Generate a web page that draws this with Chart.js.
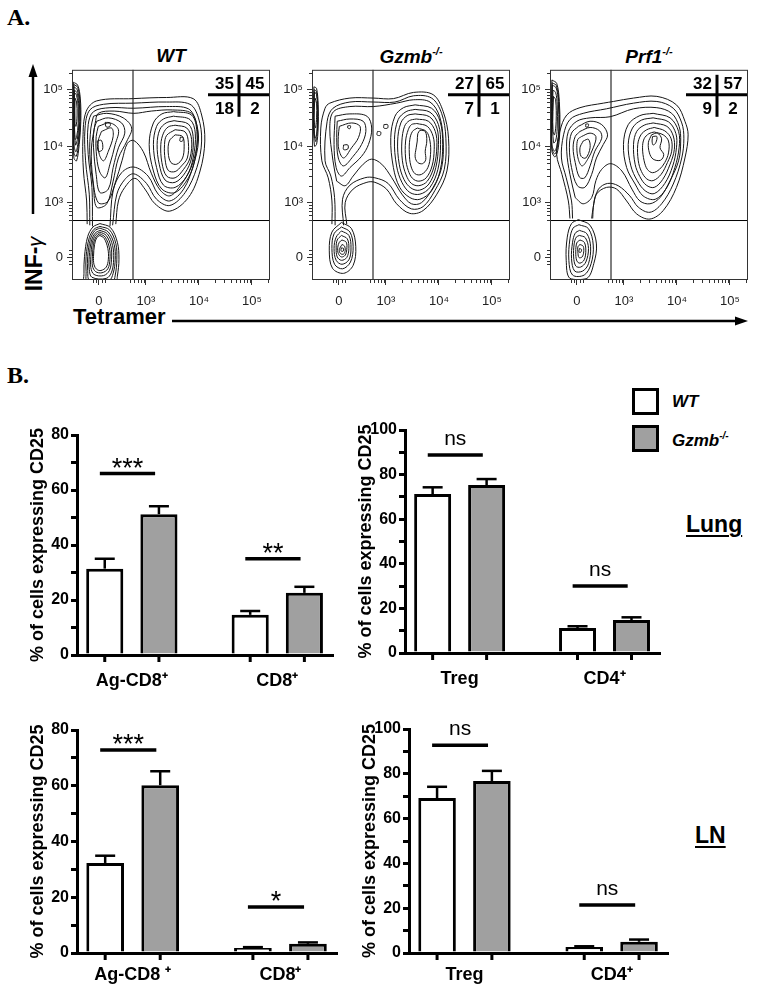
<!DOCTYPE html>
<html>
<head>
<meta charset="utf-8">
<title>CD25 expression in WT and Gzmb-/- mice</title>
<script src="https://cdn.jsdelivr.net/npm/chart.js@4.4.1/dist/chart.umd.min.js"></script>
<style>
  html, body { margin: 0; padding: 0; background: #fff; }
  #page { position: relative; width: 757px; height: 994px; overflow: hidden;
          font-family: "Liberation Sans", Arial, Helvetica, sans-serif; color: #000; }
  #page canvas, .t, .box, svg { position: absolute; }
  .t { line-height: 1; white-space: nowrap; }
  .panel { font: bold 24px "Liberation Serif", "Times New Roman", serif; }
  .ftitle { width: 198px; text-align: center; font-size: 19px; font-weight: bold; font-style: italic; }
  .ftitle sup { font-size: 11px; vertical-align: 8px; }
  .leg { font-size: 17px; font-weight: bold; font-style: italic; }
  .leg sup { font-size: 10px; vertical-align: 7px; }
  .box { width: 27px; height: 27px; box-sizing: border-box; border: 3px solid #000; }
  .tissue { font-size: 23px; font-weight: bold; text-decoration: underline;
            text-decoration-thickness: 2px; text-underline-offset: 3px; }
  .axlab { font-weight: bold; }
</style>
</head>
<body>
<div id="page">
  <div class="t panel" style="left:7px;top:4px">A.</div>
  <div class="t panel" style="left:7px;top:362px">B.</div>

  <div class="t ftitle" style="left:72px;top:46px">WT</div>
  <div class="t ftitle" style="left:312px;top:46px">Gzmb<sup>-/-</sup></div>
  <div class="t ftitle" style="left:550px;top:46px">Prf1<sup>-/-</sup></div>

  <svg width="757" height="340" style="left:0;top:0">
    <line x1="33" y1="214" x2="33" y2="74" stroke="#000" stroke-width="2.5"/>
    <polygon points="33,64 28.5,77 37.5,77" fill="#000"/>
    <line x1="172" y1="321" x2="737" y2="321" stroke="#000" stroke-width="2.5"/>
    <polygon points="748,321 735,316.5 735,325.5" fill="#000"/>
  </svg>
  <div class="t axlab" style="left:34px;top:264px;font-size:23px;transform:translate(-50%,-50%) rotate(-90deg)">INF-<span style="font-weight:normal;font-style:italic;font-size:20px">γ</span></div>
  <div class="t axlab" style="left:73px;top:306px;font-size:22px">Tetramer</div>

  <canvas id="flowWT" width="246" height="262" style="left:30px;top:58px"></canvas>
  <canvas id="flowGzmb" width="246" height="262" style="left:270px;top:58px"></canvas>
  <canvas id="flowPrf1" width="246" height="262" style="left:508px;top:58px"></canvas>

  <div class="box" style="left:632px;top:388px;background:#fff"></div>
  <div class="box" style="left:632px;top:425px;background:#a0a0a0"></div>
  <div class="t leg" style="left:672px;top:393px">WT</div>
  <div class="t leg" style="left:672px;top:431px">Gzmb<sup>-/-</sup></div>
  <div class="t tissue" style="left:686px;top:513px">Lung</div>
  <div class="t tissue" style="left:695px;top:824px">LN</div>

  <canvas id="lungCd8" width="350" height="305" style="left:0;top:405px"></canvas>
  <canvas id="lungCd4" width="345" height="310" style="left:330px;top:400px"></canvas>
  <canvas id="lnCd8" width="355" height="294" style="left:0;top:700px"></canvas>
  <canvas id="lnCd4" width="355" height="295" style="left:330px;top:699px"></canvas>
</div>

<script>
/* ---------- panel B: % of cells expressing CD25 ---------- */
const lungCd8Cats = ['Ag-CD8⁺', 'CD8⁺'];
const lungCd8WT = [31.4, 14.6];
const lungCd8WTErr = [3.6, 1.4];
const lungCd8KO = [51.2, 22.6];
const lungCd8KOErr = [2.9, 2.2];
const lungCd8Sig = ['***', '**'];
const lungCd8SigAt = [66, 35];

const lungCd4Cats = ['Treg', 'CD4⁺'];
const lungCd4WT = [71.3, 11.2];
const lungCd4WTErr = [3.0, 0.8];
const lungCd4KO = [75.3, 14.8];
const lungCd4KOErr = [2.7, 1.2];
const lungCd4Sig = ['ns', 'ns'];
const lungCd4SigAt = [88.8, 30];

const lnCd8Cats = ['Ag-CD8 ⁺', 'CD8⁺'];
const lnCd8WT = [32.3, 1.8];
const lnCd8WTErr = [2.6, 0.3];
const lnCd8KO = [60.2, 3.3];
const lnCd8KOErr = [5.0, 0.5];
const lnCd8Sig = ['***', '*'];
const lnCd8SigAt = [72.8, 16.5];

const lnCd4Cats = ['Treg', 'CD4⁺'];
const lnCd4WT = [69.2, 2.7];
const lnCd4WTErr = [5.0, 0.3];
const lnCd4KO = [76.8, 5.0];
const lnCd4KOErr = [4.5, 1.0];
const lnCd4Sig = ['ns', 'ns'];
const lnCd4SigAt = [92.8, 21.4];

/* ---------- panel A: flow plots (axis units = display decades) ---------- */
const flowXTicks = [2.113, 3, 4, 5];
const flowYTicks = [2.035, 3, 4, 5];
const flowTickLabels = ['0', '10³', '10⁴', '10⁵'];
const gateX = 2.755;   // tetramer gate
const gateY = 2.684;   // IFN-g gate

const quadWT = [35, 45, 18, 2];     // UL, UR, LL, LR
const quadGzmb = [27, 65, 7, 1];
const quadPrf1 = [32, 57, 9, 2];

// WT contours
const wtFarLeft = [
  [[1.63,5.13],[1.71,5.08],[1.76,4.85],[1.77,4.44],[1.74,4.03],[1.69,3.74],[1.64,3.79],[1.63,4.32]],
  [[1.64,5.09],[1.71,5.04],[1.75,4.83],[1.76,4.44],[1.73,4.06],[1.685,3.82],[1.64,3.88],[1.635,4.40]],
  [[1.64,5.05],[1.70,5.00],[1.74,4.80],[1.75,4.44],[1.72,4.08],[1.68,3.90],[1.645,4.00],[1.64,4.50]],
  [[1.65,4.99],[1.695,4.95],[1.73,4.75],[1.735,4.42],[1.705,4.12],[1.67,4.02],[1.65,4.45]],
  [[1.65,4.95],[1.69,4.90],[1.72,4.70],[1.72,4.40],[1.69,4.15],[1.66,4.12],[1.65,4.50]],
  [[1.66,4.85],[1.69,4.78],[1.70,4.55],[1.68,4.35],[1.66,4.40]]
];
const wtLowBlob = [
  [[2.13,2.63],[2.33,2.56],[2.46,2.30],[2.49,2.00],[2.46,1.70],[2.42,1.55],[1.85,1.55],[1.83,1.75],[1.84,2.05],[1.90,2.40],[2.00,2.57]],
  [[2.13,2.58],[2.31,2.52],[2.43,2.28],[2.45,2.00],[2.42,1.72],[2.36,1.58],[1.90,1.58],[1.87,1.78],[1.87,2.05],[1.93,2.38],[2.02,2.53]],
  [[2.13,2.55],[2.29,2.48],[2.40,2.26],[2.42,2.00],[2.38,1.75],[2.30,1.62],[1.94,1.62],[1.90,1.80],[1.90,2.05],[1.95,2.35],[2.03,2.50]],
  [[2.13,2.51],[2.27,2.45],[2.37,2.24],[2.39,2.00],[2.35,1.77],[2.25,1.66],[1.98,1.68],[1.93,1.82],[1.93,2.05],[1.97,2.32],[2.04,2.46]],
  [[2.13,2.48],[2.25,2.42],[2.34,2.22],[2.35,2.00],[2.31,1.80],[2.20,1.71],[2.02,1.73],[1.96,1.85],[1.96,2.05],[1.99,2.30],[2.05,2.43]],
  [[2.13,2.45],[2.23,2.39],[2.31,2.20],[2.32,2.00],[2.28,1.83],[2.17,1.76],[2.05,1.78],[1.99,1.88],[1.99,2.05],[2.01,2.28],[2.06,2.40]],
  [[2.13,2.42],[2.21,2.37],[2.28,2.19],[2.29,2.00],[2.25,1.86],[2.15,1.80],[2.07,1.82],[2.02,1.90],[2.01,2.05],[2.03,2.26],[2.07,2.38]]
];
const wtUpper = [   // open: these run down the neck into the lower blob
  [[1.89,2.62],[1.88,3.03],[1.82,3.56],[1.81,4.14],[1.87,4.61],[2.07,4.80],[2.76,4.84],[3.39,4.86],[3.89,4.84],[4.05,4.55],[4.11,4.09],[4.02,3.56],[3.80,3.09],[3.45,2.85],[3.17,2.98],[2.98,3.24],[2.79,3.43],[2.60,3.27],[2.48,3.03],[2.43,2.62]],
  [[1.94,2.60],[1.93,3.15],[1.86,3.74],[1.85,4.32],[1.94,4.64],[2.20,4.74],[2.76,4.76],[3.39,4.78],[3.83,4.74],[3.99,4.50],[4.05,4.09],[3.96,3.62],[3.74,3.18],[3.45,2.95],[3.20,3.06],[3.01,3.34],[2.77,3.51],[2.60,3.41],[2.45,3.15],[2.37,2.60]],
  [[1.99,2.58],[1.98,3.27],[1.91,3.85],[1.91,4.38],[2.01,4.61],[2.32,4.68],[2.77,4.67],[3.39,4.70],[3.80,4.66],[3.94,4.44],[3.99,4.09],[3.89,3.65],[3.71,3.24],[3.45,3.03],[3.23,3.15],[3.04,3.47],[2.77,3.63],[2.54,3.53],[2.38,3.21],[2.32,2.58]]
];
const wtBridge = [
  [[2.04,4.40],[2.10,4.58],[2.40,4.62],[2.77,4.58],[3.10,4.62],[3.50,4.64],[3.86,4.58],[3.97,4.30],[3.95,3.95],[3.85,3.62],[3.65,3.30],[3.45,3.12],[3.27,3.22],[3.10,3.52],[2.95,3.90],[2.77,4.10],[2.65,4.05],[2.55,3.75],[2.42,3.35],[2.28,3.02],[2.10,3.00],[2.00,3.40],[1.97,3.95]]
];
const wtLeftBlob = [
  [[2.01,4.53],[2.26,4.58],[2.57,4.50],[2.73,4.32],[2.64,4.09],[2.48,3.79],[2.38,3.38],[2.26,2.98],[2.07,2.92],[2.01,3.27],[1.94,3.85],[1.96,4.32]],
  [[2.07,4.44],[2.29,4.50],[2.54,4.41],[2.60,4.23],[2.48,3.97],[2.38,3.62],[2.29,3.24],[2.13,3.18],[2.06,3.50],[2.01,3.97],[2.02,4.29]],
  [[2.10,4.35],[2.32,4.41],[2.48,4.29],[2.42,4.03],[2.32,3.68],[2.23,3.44],[2.12,3.56],[2.06,3.91],[2.06,4.17]],
  [[2.16,4.26],[2.35,4.32],[2.38,4.17],[2.29,3.91],[2.20,3.74],[2.12,3.85],[2.10,4.09]],
  [[2.23,4.42],[2.32,4.41],[2.32,4.35],[2.25,4.34]],
  [[2.08,4.09],[2.16,4.10],[2.18,3.94],[2.10,3.91]]
];
const wtRightBlob = [
  [[3.52,4.61],[3.86,4.55],[3.96,4.26],[3.93,3.79],[3.80,3.44],[3.55,3.18],[3.30,3.24],[3.14,3.56],[3.06,4.03],[3.14,4.41],[3.30,4.57]],
  [[3.52,4.53],[3.83,4.47],[3.93,4.23],[3.89,3.79],[3.77,3.47],[3.55,3.27],[3.33,3.31],[3.20,3.62],[3.14,4.03],[3.20,4.35],[3.33,4.48]],
  [[3.53,4.45],[3.80,4.39],[3.89,4.17],[3.86,3.79],[3.74,3.53],[3.55,3.36],[3.36,3.40],[3.25,3.68],[3.21,4.03],[3.26,4.29],[3.38,4.41]],
  [[3.55,4.37],[3.77,4.32],[3.86,4.12],[3.83,3.79],[3.71,3.59],[3.55,3.44],[3.39,3.47],[3.30,3.71],[3.28,4.03],[3.33,4.23],[3.42,4.34]],
  [[3.55,4.29],[3.74,4.25],[3.80,4.06],[3.78,3.79],[3.67,3.65],[3.55,3.55],[3.42,3.57],[3.36,3.77],[3.35,4.03],[3.39,4.19]],
  [[3.55,4.20],[3.69,4.17],[3.72,4.00],[3.69,3.79],[3.58,3.68],[3.47,3.71],[3.42,3.88],[3.44,4.09]],
  [[3.65,4.16],[3.70,4.15],[3.69,4.09],[3.64,4.09]]
];

// Gzmb-/- contours
const gzFarLeft = [
  [[1.64,5.05],[1.69,5.02],[1.72,4.73],[1.72,4.32],[1.69,4.03],[1.65,4.00],[1.63,4.55]],
  [[1.645,5.00],[1.69,4.96],[1.715,4.65],[1.705,4.26],[1.675,4.08],[1.64,4.30]],
  [[1.65,4.96],[1.69,4.91],[1.71,4.55],[1.69,4.20],[1.66,4.14],[1.64,4.55]],
  [[1.66,4.85],[1.69,4.76],[1.69,4.50],[1.67,4.32],[1.64,4.50]]
];
const gzLowBlob = [
  [[2.16,2.65],[2.35,2.54],[2.43,2.22],[2.38,1.89],[2.20,1.75],[1.99,1.84],[1.93,2.16],[1.98,2.48]],
  [[2.16,2.57],[2.32,2.48],[2.38,2.22],[2.33,1.95],[2.18,1.83],[2.03,1.91],[1.98,2.19],[2.02,2.45]],
  [[2.16,2.50],[2.30,2.42],[2.34,2.20],[2.30,1.99],[2.17,1.91],[2.06,1.98],[2.02,2.19],[2.06,2.39]],
  [[2.16,2.42],[2.27,2.36],[2.30,2.19],[2.26,2.03],[2.16,1.98],[2.08,2.04],[2.06,2.20],[2.08,2.34]],
  [[2.17,2.34],[2.25,2.30],[2.26,2.17],[2.23,2.07],[2.16,2.04],[2.10,2.10],[2.09,2.21],[2.12,2.30]],
  [[2.17,2.26],[2.22,2.23],[2.23,2.15],[2.20,2.09],[2.14,2.10],[2.12,2.17]],
  [[2.16,2.20],[2.20,2.19],[2.19,2.14],[2.15,2.15]]
];
const gzUpper = [
  [[1.98,2.62],[1.98,3.03],[1.91,3.44],[1.79,3.74],[1.77,4.32],[1.85,4.67],[1.94,4.76],[2.32,4.85],[2.76,4.85],[3.14,4.84],[3.52,4.95],[3.89,4.91],[4.08,4.61],[4.18,4.14],[4.15,3.56],[3.96,3.15],[3.70,2.86],[3.45,2.81],[3.20,2.98],[3.01,3.24],[2.79,3.36],[2.64,3.36],[2.38,3.24],[2.23,3.00],[2.26,2.62]],
  [[2.04,2.60],[2.03,3.09],[1.96,3.47],[1.85,3.74],[1.89,4.44],[2.00,4.67],[2.32,4.78],[2.76,4.78],[3.17,4.78],[3.52,4.89],[3.86,4.85],[4.05,4.58],[4.13,4.14],[4.10,3.59],[3.92,3.21],[3.70,2.93],[3.48,2.89],[3.25,3.06],[3.04,3.34],[2.79,3.44],[2.60,3.44],[2.32,3.31],[2.18,3.06],[2.20,2.60]]
];
const gzBridge = [
  [[2.07,3.38],[2.00,3.74],[1.94,4.32],[2.01,4.61],[2.32,4.70],[2.76,4.70],[3.20,4.76],[3.52,4.82],[3.83,4.78],[4.01,4.53],[4.08,4.09],[4.05,3.62],[3.89,3.27],[3.67,3.00],[3.48,2.98],[3.30,3.15],[3.11,3.44],[2.92,3.68],[2.73,3.77],[2.57,3.68],[2.38,3.47],[2.23,3.30]]
];
const gzLeftBlob = [
  [[2.04,4.53],[2.32,4.57],[2.64,4.53],[2.73,4.32],[2.67,4.03],[2.54,3.82],[2.32,3.62],[2.16,3.47],[2.06,3.62],[2.02,4.03]],
  [[2.08,4.44],[2.32,4.48],[2.57,4.44],[2.62,4.26],[2.54,4.03],[2.38,3.82],[2.20,3.65],[2.10,3.79],[2.07,4.15]],
  [[2.12,4.35],[2.35,4.41],[2.51,4.35],[2.48,4.15],[2.35,3.97],[2.20,3.79],[2.11,3.94],[2.10,4.17]],
  [[2.28,4.36],[2.33,4.36],[2.32,4.31],[2.28,4.32]],
  [[2.20,4.02],[2.28,4.02],[2.28,3.95],[2.20,3.94]],
  [[2.84,4.26],[2.90,4.25],[2.89,4.19],[2.83,4.20]],
  [[2.96,4.38],[3.03,4.38],[3.03,4.32],[2.96,4.32]]
];
const gzRightBlob = [
  [[3.55,4.73],[3.86,4.67],[4.02,4.44],[4.07,4.03],[4.02,3.56],[3.86,3.21],[3.64,3.06],[3.45,3.09],[3.26,3.27],[3.14,3.62],[3.09,4.15],[3.17,4.53],[3.33,4.68]],
  [[3.55,4.65],[3.83,4.60],[3.99,4.38],[4.03,4.03],[3.98,3.59],[3.83,3.27],[3.64,3.15],[3.45,3.18],[3.30,3.36],[3.20,3.65],[3.16,4.12],[3.23,4.47],[3.38,4.61]],
  [[3.55,4.57],[3.82,4.52],[3.96,4.32],[3.99,4.03],[3.94,3.62],[3.81,3.33],[3.63,3.22],[3.47,3.26],[3.34,3.41],[3.25,3.68],[3.22,4.09],[3.28,4.41],[3.40,4.54]],
  [[3.57,4.48],[3.80,4.44],[3.93,4.26],[3.96,4.00],[3.91,3.65],[3.78,3.38],[3.62,3.30],[3.48,3.34],[3.38,3.49],[3.31,3.74],[3.30,4.09],[3.35,4.35],[3.44,4.45]],
  [[3.58,4.40],[3.78,4.35],[3.89,4.17],[3.91,3.94],[3.87,3.65],[3.76,3.44],[3.62,3.38],[3.50,3.43],[3.42,3.57],[3.37,3.79],[3.37,4.09],[3.42,4.29],[3.48,4.38]],
  [[3.59,4.32],[3.76,4.26],[3.83,4.09],[3.84,3.85],[3.79,3.62],[3.67,3.50],[3.55,3.51],[3.47,3.65],[3.44,3.88],[3.45,4.12],[3.50,4.26]],
  [[3.64,4.28],[3.74,4.26],[3.77,4.09],[3.74,3.91],[3.75,3.76],[3.69,3.69],[3.60,3.71],[3.55,3.81],[3.57,3.97],[3.59,4.09],[3.60,4.22]]
];

// Prf1-/- contours
const pfFarLeft = [
  [[1.64,5.17],[1.73,5.11],[1.78,4.79],[1.79,4.32],[1.76,3.97],[1.70,3.81],[1.64,3.91],[1.63,4.61]],
  [[1.645,5.12],[1.725,5.07],[1.77,4.79],[1.78,4.32],[1.75,4.00],[1.695,3.86],[1.64,3.97],[1.635,4.61]],
  [[1.65,5.08],[1.72,5.03],[1.76,4.79],[1.77,4.32],[1.74,4.03],[1.69,3.91],[1.64,4.03],[1.64,4.61]],
  [[1.66,4.99],[1.71,4.95],[1.74,4.73],[1.74,4.32],[1.71,4.09],[1.67,4.06],[1.65,4.55]],
  [[1.67,4.88],[1.71,4.82],[1.72,4.44],[1.69,4.20],[1.66,4.26],[1.66,4.61]]
];
const pfLowBlob = [
  [[2.14,2.70],[2.36,2.60],[2.48,2.27],[2.43,1.92],[2.30,1.66],[1.98,1.66],[1.91,1.98],[1.93,2.39],[2.01,2.63]],
  [[2.15,2.61],[2.33,2.54],[2.42,2.25],[2.38,1.92],[2.25,1.72],[2.03,1.72],[1.96,1.98],[1.98,2.36],[2.04,2.55]],
  [[2.16,2.51],[2.30,2.45],[2.37,2.22],[2.33,1.92],[2.22,1.79],[2.07,1.79],[2.01,2.01],[2.03,2.30],[2.08,2.46]],
  [[2.16,2.42],[2.27,2.38],[2.33,2.19],[2.28,1.95],[2.18,1.86],[2.09,1.88],[2.05,2.04],[2.06,2.27],[2.10,2.39]],
  [[2.17,2.34],[2.25,2.30],[2.28,2.16],[2.25,1.99],[2.17,1.93],[2.11,1.97],[2.09,2.13],[2.11,2.29]],
  [[2.17,2.26],[2.23,2.23],[2.24,2.13],[2.21,2.04],[2.15,2.03],[2.13,2.13],[2.13,2.22]],
  [[2.16,2.19],[2.20,2.17],[2.18,2.12],[2.15,2.13]]
];
const pfUpper = [
  [[1.98,2.72],[1.95,3.03],[1.83,3.50],[1.73,3.85],[1.79,4.26],[1.92,4.55],[2.17,4.68],[2.61,4.76],[2.80,4.79],[3.18,4.85],[3.62,4.88],[3.99,4.73],[4.15,4.44],[4.21,4.20],[4.15,3.79],[3.99,3.27],[3.74,2.86],[3.49,2.71],[3.24,2.80],[3.05,3.03],[2.86,3.24],[2.67,3.27],[2.48,3.15],[2.42,2.92],[2.39,2.72]],
  [[2.03,2.72],[2.01,3.03],[1.91,3.44],[1.82,3.79],[1.86,4.20],[1.98,4.47],[2.23,4.58],[2.67,4.66],[3.18,4.76],[3.62,4.79],[3.93,4.67],[4.09,4.41],[4.13,4.14],[4.09,3.79],[3.93,3.33],[3.71,2.98],[3.49,2.83],[3.27,2.92],[3.11,3.12],[2.89,3.30],[2.69,3.34],[2.52,3.24],[2.43,2.98],[2.41,2.72]]
];
const pfBridge = [
  [[2.08,3.09],[1.98,3.50],[1.92,3.91],[1.95,4.26],[2.11,4.44],[2.36,4.50],[2.74,4.52],[3.18,4.66],[3.62,4.68],[3.90,4.58],[4.04,4.35],[4.07,4.09],[4.03,3.74],[3.87,3.39],[3.68,3.09],[3.49,2.98],[3.30,3.03],[3.15,3.24],[2.96,3.56],[2.75,3.69],[2.58,3.59],[2.47,3.39],[2.39,3.09],[2.23,2.98]]
];
const pfLeftBlob = [
  [[2.14,4.35],[2.36,4.44],[2.58,4.38],[2.69,4.20],[2.61,4.03],[2.48,3.79],[2.39,3.50],[2.26,3.27],[2.12,3.30],[2.01,3.62],[1.97,3.97],[2.01,4.23]],
  [[2.17,4.26],[2.36,4.33],[2.54,4.27],[2.58,4.14],[2.45,3.91],[2.36,3.65],[2.26,3.44],[2.16,3.45],[2.08,3.71],[2.04,3.97],[2.08,4.17]],
  [[2.20,4.17],[2.36,4.23],[2.47,4.17],[2.42,3.97],[2.31,3.76],[2.21,3.65],[2.14,3.76],[2.11,3.97],[2.13,4.12]],
  [[2.23,4.09],[2.33,4.12],[2.36,3.97],[2.28,3.79],[2.19,3.82],[2.17,3.97]],
  [[2.28,4.39],[2.33,4.39],[2.32,4.34],[2.28,4.34]]
];
const pfRightBlob = [
  [[3.55,4.58],[3.87,4.50],[4.03,4.26],[4.04,3.97],[3.96,3.62],[3.81,3.27],[3.59,3.06],[3.36,3.12],[3.21,3.33],[3.05,3.62],[2.99,4.03],[3.08,4.38],[3.30,4.54]],
  [[3.55,4.50],[3.84,4.43],[3.98,4.22],[3.99,3.97],[3.92,3.65],[3.77,3.34],[3.57,3.16],[3.40,3.21],[3.25,3.39],[3.13,3.65],[3.08,4.03],[3.16,4.32],[3.33,4.46]],
  [[3.55,4.41],[3.81,4.35],[3.93,4.18],[3.95,3.94],[3.87,3.68],[3.73,3.41],[3.57,3.27],[3.42,3.31],[3.30,3.46],[3.21,3.68],[3.18,4.03],[3.24,4.26],[3.38,4.37]],
  [[3.57,4.33],[3.77,4.27],[3.89,4.13],[3.90,3.91],[3.82,3.71],[3.70,3.50],[3.55,3.39],[3.43,3.42],[3.33,3.55],[3.27,3.74],[3.26,4.03],[3.32,4.20],[3.43,4.29]],
  [[3.57,4.25],[3.74,4.20],[3.84,4.09],[3.84,3.88],[3.77,3.71],[3.67,3.59],[3.54,3.53],[3.44,3.59],[3.38,3.74],[3.35,3.97],[3.38,4.13],[3.47,4.22]],
  [[3.52,4.20],[3.63,4.23],[3.71,4.13],[3.68,3.97],[3.75,3.85],[3.69,3.75],[3.55,3.77],[3.48,3.88],[3.46,4.06]],
  [[3.54,4.17],[3.62,4.17],[3.60,4.06],[3.55,4.02],[3.53,4.09]]
];

/* ---------- shared settings ---------- */
Chart.defaults.font.family = '"Liberation Sans", Arial, Helvetica, sans-serif';
Chart.defaults.color = '#000';

const KO_GRAY = '#a0a0a0';
const BAR_X_MIN = -0.377, BAR_X_MAX = 1.383;
const FLOW_X_MIN = 1.604, FLOW_X_MAX = 5.34;
const FLOW_Y_MIN = 1.632, FLOW_Y_MAX = 5.35;

function strokeLine(ctx, x1, y1, x2, y2) {
  ctx.beginPath(); ctx.moveTo(x1, y1); ctx.lineTo(x2, y2); ctx.stroke();
}

/* error bars, bar tick marks and significance brackets (Prism style) */
const prismMarks = {
  id: 'prismMarks',
  afterDatasetsDraw(chart, args, opts) {
    const { ctx, chartArea: area, scales: { x, y } } = chart;
    ctx.save();
    ctx.strokeStyle = '#000';
    ctx.fillStyle = '#000';
    chart.data.datasets.forEach((ds, d) => {
      chart.getDatasetMeta(d).data.forEach((bar, i) => {
        const top = y.getPixelForValue(ds.data[i].y + ds.errors[i]);
        ctx.lineWidth = 2.5;
        strokeLine(ctx, bar.x, bar.y, bar.x, top);
        strokeLine(ctx, bar.x - 10, top, bar.x + 10, top);
        ctx.lineWidth = 3;
        strokeLine(ctx, bar.x, area.bottom, bar.x, area.bottom + 7);
      });
    });
    opts.labels.forEach((txt, i) => {
      const py = y.getPixelForValue(opts.at[i]);
      const x1 = x.getPixelForValue(i - 0.22), x2 = x.getPixelForValue(i + 0.16);
      ctx.lineWidth = 3.5;
      strokeLine(ctx, x1, py, x2, py);
      const ns = txt === 'ns';
      ctx.font = (ns ? '21px' : '27px') + ' "Liberation Sans", Arial, sans-serif';
      ctx.textAlign = 'center';
      ctx.textBaseline = 'alphabetic';
      ctx.fillText(txt, (x1 + x2) / 2, ns ? py - 10 : py + 3);
    });
    ctx.restore();
  }
};

function barChart(id, cats, wt, wtErr, ko, koErr, sig, sigAt, yMax, pad, labelPad) {
  const toXY = vals => vals.map((v, i) => ({ x: i, y: v }));
  const barStyle = { borderColor: '#000', borderWidth: 3, categoryPercentage: 0.745, barPercentage: 0.685 };
  return new Chart(document.getElementById(id), {
    type: 'bar',
    data: {
      datasets: [
        Object.assign({ label: 'WT', data: toXY(wt), errors: wtErr, backgroundColor: '#fff' }, barStyle),
        Object.assign({ label: 'Gzmb-/-', data: toXY(ko), errors: koErr, backgroundColor: KO_GRAY }, barStyle)
      ]
    },
    options: {
      responsive: false, animation: false, events: [],
      layout: { padding: pad },
      plugins: { legend: { display: false }, tooltip: { enabled: false }, prismMarks: { labels: sig, at: sigAt } },
      scales: {
        x: {
          type: 'linear', offset: false, min: BAR_X_MIN, max: BAR_X_MAX,
          afterBuildTicks: s => { s.ticks = cats.map((c, i) => ({ value: i })); },
          afterFit: s => { s.height = 41; },
          ticks: { callback: (v, i) => cats[i], font: { size: 18, weight: 'bold' }, color: '#000',
                   padding: labelPad, autoSkip: false, maxRotation: 0 },
          grid: { display: false, drawTicks: false },
          border: { display: true, width: 3, color: '#000' }
        },
        y: {
          min: 0, max: yMax,
          afterFit: s => { s.width = 52; },
          ticks: { stepSize: 10, callback: v => (v % 20 === 0 ? v : ''), font: { size: 16, weight: 'bold' },
                   color: '#000', padding: 2, autoSkip: false },
          grid: { display: true, drawOnChartArea: false, drawTicks: true, tickLength: 6, lineWidth: 3, color: '#000' },
          border: { display: true, width: 3, color: '#000' },
          title: { display: true, text: '% of cells expressing CD25', font: { size: 18, weight: 'bold' },
                   color: '#000', padding: { top: 2, bottom: 0 } }
        }
      }
    },
    plugins: [prismMarks]
  });
}

/* gates, frame, minor log ticks and quadrant percentages */
function minorTicks(zero) {
  const out = [zero - 0.12, zero - 0.06, zero + 0.06, zero + 0.12];
  for (let k = 5; k <= 9; k++) out.push(2 + Math.log10(k));
  [3, 4].forEach(d => { for (let k = 2; k <= 9; k++) out.push(d + Math.log10(k)); });
  out.push(5 + Math.log10(2));
  return out;
}

const flowDecor = {
  id: 'flowDecor',
  beforeDatasetsDraw(chart) {
    const { ctx, chartArea: a, scales: { x, y } } = chart;
    const gx = x.getPixelForValue(gateX), gy = y.getPixelForValue(gateY);
    ctx.save();
    ctx.strokeStyle = '#000';
    ctx.lineWidth = 1;
    strokeLine(ctx, gx, a.top, gx, a.bottom);
    strokeLine(ctx, a.left, gy, a.right, gy);
    ctx.restore();
  },
  afterDraw(chart, args, opts) {
    const { ctx, chartArea: a, scales: { x, y } } = chart;
    ctx.save();
    ctx.strokeStyle = '#333';
    ctx.lineWidth = 1;
    ctx.strokeRect(a.left + 0.5, a.top + 0.5, a.right - a.left - 1, a.bottom - a.top - 1);
    minorTicks(flowXTicks[0]).forEach(v => {
      const px = Math.round(x.getPixelForValue(v)) + 0.5;
      strokeLine(ctx, px, a.bottom, px, a.bottom + 3);
    });
    minorTicks(flowYTicks[0]).forEach(v => {
      const py = Math.round(y.getPixelForValue(v)) + 0.5;
      if (py > a.top && py < a.bottom) strokeLine(ctx, a.left, py, a.left - 3, py);
    });
    // quadrant box, top right
    const q = opts.values, cx = a.right - 31, hy = a.top + 25;
    ctx.strokeStyle = '#000';
    ctx.lineWidth = 3;
    strokeLine(ctx, a.right - 62, hy, a.right - 1, hy);
    strokeLine(ctx, cx, a.top + 5, cx, a.top + 47);
    ctx.fillStyle = '#000';
    ctx.font = 'bold 17px "Liberation Sans", Arial, sans-serif';
    ctx.textBaseline = 'alphabetic';
    ctx.textAlign = 'right';
    ctx.fillText(q[0], cx - 5, a.top + 19);
    ctx.fillText(q[2], cx - 5, a.top + 44);
    ctx.textAlign = 'center';
    ctx.fillText(q[1], a.right - 15, a.top + 19);
    ctx.fillText(q[3], a.right - 15, a.top + 44);
    ctx.restore();
  }
};

function contourSet(pts, closed) {
  const ring = closed ? pts.concat([pts[0]]) : pts;
  return {
    data: ring.map(p => ({ x: p[0], y: p[1] })),
    showLine: true, fill: false, pointRadius: 0, tension: 0.35,
    borderColor: '#151515', borderWidth: 1
  };
}

function flowChart(id, loops, paths, quad) {
  const datasets = loops.map(c => contourSet(c, true)).concat(paths.map(c => contourSet(c, false)));
  return new Chart(document.getElementById(id), {
    type: 'scatter',
    data: { datasets },
    options: {
      responsive: false, animation: false, events: [],
      layout: { padding: { left: 2, top: 10, right: 6, bottom: 10 } },
      plugins: { legend: { display: false }, tooltip: { enabled: false }, flowDecor: { values: quad } },
      scales: {
        x: {
          type: 'linear', min: FLOW_X_MIN, max: FLOW_X_MAX,
          afterBuildTicks: s => { s.ticks = flowXTicks.map(v => ({ value: v })); },
          afterFit: s => { s.height = 30; },
          ticks: { callback: (v, i) => flowTickLabels[i], font: { size: 13 }, color: '#222',
                   padding: 9, autoSkip: false, maxRotation: 0 },
          grid: { drawOnChartArea: false, drawTicks: true, tickLength: 5, color: '#333', lineWidth: 1 },
          border: { display: false }
        },
        y: {
          type: 'linear', min: FLOW_Y_MIN, max: FLOW_Y_MAX,
          afterBuildTicks: s => { s.ticks = flowYTicks.map(v => ({ value: v })); },
          afterFit: s => { s.width = 40; },
          ticks: { callback: (v, i) => flowTickLabels[i], font: { size: 13 }, color: '#222',
                   padding: 4, autoSkip: false },
          grid: { drawOnChartArea: false, drawTicks: true, tickLength: 5, color: '#333', lineWidth: 1 },
          border: { display: false }
        }
      }
    },
    plugins: [flowDecor]
  });
}

flowChart('flowWT', [].concat(wtFarLeft, wtLowBlob, wtBridge, wtLeftBlob, wtRightBlob), wtUpper, quadWT);
flowChart('flowGzmb', [].concat(gzFarLeft, gzLowBlob, gzBridge, gzLeftBlob, gzRightBlob), gzUpper, quadGzmb);
flowChart('flowPrf1', [].concat(pfFarLeft, pfLowBlob, pfBridge, pfLeftBlob, pfRightBlob), pfUpper, quadPrf1);

barChart('lungCd8', lungCd8Cats, lungCd8WT, lungCd8WTErr, lungCd8KO, lungCd8KOErr, lungCd8Sig, lungCd8SigAt, 80,
         { left: 25, top: 30, right: 17, bottom: 14 }, 15);
barChart('lungCd4', lungCd4Cats, lungCd4WT, lungCd4WTErr, lungCd4KO, lungCd4KOErr, lungCd4Sig, lungCd4SigAt, 100,
         { left: 23, top: 30, right: 15, bottom: 16 }, 15);
barChart('lnCd8', lnCd8Cats, lnCd8WT, lnCd8WTErr, lnCd8KO, lnCd8KOErr, lnCd8Sig, lnCd8SigAt, 80,
         { left: 25, top: 30, right: 18, bottom: 0 }, 11);
barChart('lnCd4', lnCd4Cats, lnCd4WT, lnCd4WTErr, lnCd4KO, lnCd4KOErr, lnCd4Sig, lnCd4SigAt, 100,
         { left: 27, top: 30, right: 17, bottom: 0 }, 11);
</script>
</body>
</html>
